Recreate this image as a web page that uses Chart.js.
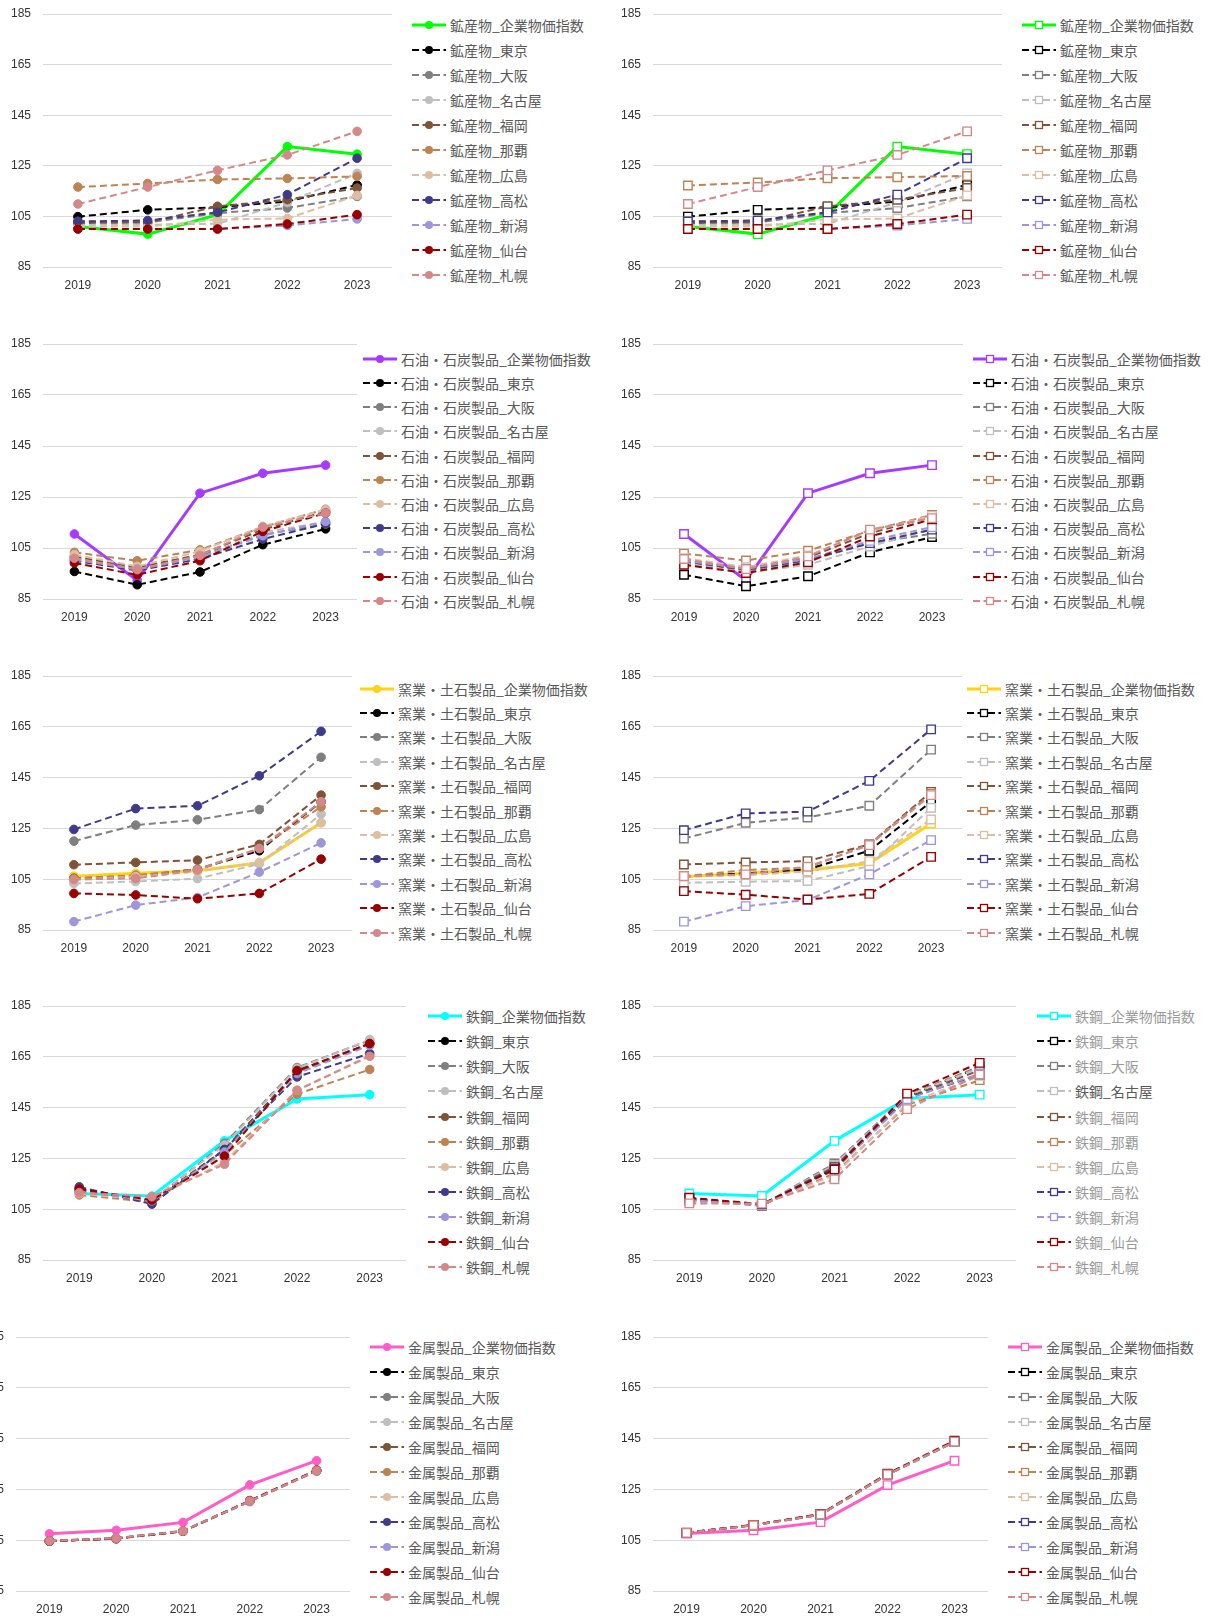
<!DOCTYPE html>
<html>
<head>
<meta charset="utf-8">
<script src="https://cdn.jsdelivr.net/npm/chart.js@4/dist/chart.umd.min.js"></script>
<style>
  body { margin: 0; background: #fff; width: 1209px; height: 1616px; overflow: hidden; position: relative; }
  canvas { position: absolute; }
  .lg { position: absolute; display: flex; align-items: center; height: 20px;
        font: 14px "Noto Sans CJK JP", sans-serif; color: #595959; white-space: nowrap; }
  .lg svg { flex: none; margin-right: 4px; }
</style>
</head>
<body>
<script>
// ---- data ----
const years = ['2019', '2020', '2021', '2022', '2023'];
const yTicks = [85, 105, 125, 145, 165, 185];
const industries = ['鉱産物', '石油・石炭製品', '窯業・土石製品', '鉄鋼', '金属製品'];
const seriesNames = ['企業物価指数', '東京', '大阪', '名古屋', '福岡', '那覇', '広島', '高松', '新潟', '仙台', '札幌'];
const indexColors = ['#00FF00', '#A63BFF', '#FFD21A', '#00FFFF', '#FF5CC8'];
const cityColors = ['#000000', '#7F7F7F', '#BFBFBF', '#7E5336', '#BD8352', '#DDBEA3',
                    '#403A8A', '#9D97D9', '#990000', '#D4888A'];

// rows follow seriesNames: 企業物価指数, 東京, 大阪, 名古屋, 福岡, 那覇, 広島, 高松, 新潟, 仙台, 札幌
const mineralCircle = [
  [101.0, 98.0, 105.7, 132.6, 129.6],
  [104.9, 107.6, 108.6, 110.9, 117.4],
  [103.0, 102.6, 106.3, 108.3, 112.9],
  [101.7, 101.7, 102.1, 110.5, 122.0],
  [102.4, 102.6, 109.0, 111.6, 116.2],
  [116.6, 118.0, 119.6, 120.0, 120.8],
  [101.0, 101.0, 103.7, 104.2, 113.3],
  [103.0, 103.4, 106.6, 113.6, 128.0],
  [100.0, 100.0, 100.0, 101.4, 104.0],
  [100.0, 100.0, 100.0, 102.0, 105.7],
  [109.9, 116.6, 123.2, 129.3, 138.6]
];
const mineralSquare = [
  [101.0, 98.0, 105.7, 132.6, 129.6],
  [104.9, 107.6, 108.6, 110.9, 117.4],
  [103.0, 102.6, 106.3, 108.3, 112.9],
  [101.7, 101.7, 102.1, 110.5, 122.0],
  [102.4, 102.6, 109.0, 111.6, 116.2],
  [117.2, 118.4, 120.1, 120.5, 121.0],
  [101.0, 101.0, 103.7, 104.2, 113.3],
  [103.0, 103.4, 106.6, 113.6, 128.0],
  [100.0, 100.0, 100.0, 101.4, 104.0],
  [100.0, 100.0, 100.0, 102.0, 105.7],
  [109.9, 116.6, 123.2, 129.3, 138.6]
];
const oilCircle = [
  [110.5, 92.3, 126.5, 134.3, 137.5],
  [95.8, 90.6, 95.6, 106.3, 112.5],
  [101.3, 97.1, 102.0, 110.2, 114.4],
  [101.0, 97.5, 101.0, 111.1, 115.2],
  [101.7, 97.4, 102.4, 112.2, 119.3],
  [103.3, 100.0, 104.3, 113.2, 120.2],
  [102.4, 97.8, 103.7, 113.5, 120.0],
  [100.0, 96.2, 100.7, 108.5, 114.5],
  [100.4, 96.7, 101.3, 109.8, 115.4],
  [99.1, 94.5, 100.0, 111.5, 118.7],
  [101.0, 96.5, 102.1, 113.2, 118.7]
];
const oilSquare = [
  [110.5, 92.3, 126.5, 134.3, 137.5],
  [94.5, 90.0, 93.9, 103.3, 109.3],
  [99.4, 96.2, 100.1, 106.9, 110.6],
  [99.1, 95.4, 98.4, 105.6, 112.4],
  [100.4, 97.1, 101.3, 110.8, 117.4],
  [102.8, 100.1, 103.9, 111.8, 118.0],
  [101.0, 97.5, 102.1, 111.6, 117.6],
  [99.8, 96.5, 100.4, 106.9, 112.2],
  [100.0, 96.9, 100.7, 107.8, 113.2],
  [98.4, 95.2, 99.4, 109.5, 116.3],
  [100.7, 96.7, 101.7, 112.2, 116.7]
];
const ceramicCircle = [
  [106.2, 107.3, 108.3, 111.5, 127.2],
  [105.3, 106.2, 108.9, 116.2, 135.5],
  [120.0, 126.3, 128.4, 132.4, 153.0],
  [103.3, 104.1, 105.2, 111.0, 130.6],
  [110.7, 111.6, 112.5, 118.7, 138.1],
  [105.3, 106.6, 108.9, 117.1, 133.5],
  [104.7, 106.0, 108.0, 111.6, 127.3],
  [124.6, 132.8, 133.9, 145.7, 163.2],
  [88.3, 94.8, 97.8, 107.8, 119.3],
  [99.4, 98.8, 97.3, 99.4, 112.9],
  [104.9, 105.3, 108.6, 117.1, 135.5]
];
const ceramicSquare = [
  [106.0, 107.3, 108.6, 111.2, 126.9],
  [106.0, 107.3, 108.9, 116.2, 135.5],
  [121.0, 127.2, 129.3, 133.9, 156.0],
  [103.6, 104.0, 104.3, 110.2, 133.1],
  [110.8, 111.6, 112.1, 118.7, 139.4],
  [106.2, 108.6, 109.6, 118.7, 138.7],
  [106.0, 106.6, 108.0, 112.1, 128.5],
  [124.3, 130.9, 131.6, 143.7, 164.0],
  [88.3, 94.4, 96.8, 106.9, 120.4],
  [100.3, 98.9, 97.0, 99.2, 113.8],
  [106.2, 106.9, 109.9, 118.4, 138.1]
];
const steelCircle = [
  [111.2, 110.2, 131.9, 148.4, 150.1],
  [113.2, 108.0, 128.3, 159.3, 170.2],
  [112.5, 108.3, 130.9, 160.8, 171.5],
  [112.1, 108.6, 130.3, 160.4, 171.8],
  [112.5, 108.0, 128.5, 159.0, 170.2],
  [110.6, 107.8, 126.3, 150.3, 160.0],
  [111.2, 108.9, 123.7, 151.8, 165.6],
  [113.8, 107.0, 128.5, 157.1, 166.3],
  [111.9, 108.3, 127.5, 158.4, 169.5],
  [112.9, 108.6, 125.9, 159.6, 170.2],
  [111.5, 109.9, 122.7, 151.8, 165.2]
];
const steelSquare = [
  [111.2, 110.2, 131.9, 148.6, 150.1],
  [109.2, 106.4, 121.3, 149.2, 161.0],
  [109.0, 106.6, 123.0, 149.9, 161.2],
  [108.6, 106.6, 122.4, 149.6, 160.7],
  [109.0, 106.6, 121.7, 148.8, 159.7],
  [108.2, 106.6, 119.1, 146.0, 155.8],
  [107.9, 106.9, 118.4, 146.6, 157.5],
  [108.9, 106.9, 121.0, 148.6, 158.0],
  [108.6, 106.6, 120.4, 148.3, 158.4],
  [109.5, 107.0, 120.6, 150.5, 162.6],
  [107.3, 107.2, 116.8, 144.4, 158.0]
];
const metalCircle = [
  [107.5, 108.9, 112.0, 126.8, 136.3],
  [104.7, 105.7, 108.6, 120.4, 132.4],
  [104.8, 105.8, 108.7, 120.5, 132.5],
  [104.7, 105.7, 108.6, 120.3, 132.3],
  [104.7, 105.6, 108.5, 120.4, 132.4],
  [104.6, 105.7, 108.6, 120.2, 132.2],
  [104.7, 105.8, 108.7, 120.5, 132.5],
  [104.7, 105.7, 108.6, 120.4, 132.4],
  [104.7, 105.7, 108.6, 120.4, 132.4],
  [104.6, 105.6, 108.5, 120.6, 132.6],
  [104.7, 105.7, 108.6, 120.4, 132.4]
];
const metalSquare = [
  [107.6, 108.9, 112.1, 126.7, 136.3],
  [107.9, 110.9, 115.1, 130.9, 143.8],
  [107.9, 111.0, 115.2, 131.0, 143.9],
  [107.9, 110.8, 115.0, 130.8, 143.7],
  [107.9, 110.9, 115.1, 130.9, 143.8],
  [107.8, 110.8, 115.0, 130.7, 143.6],
  [107.9, 110.9, 115.1, 130.9, 143.8],
  [107.9, 110.9, 115.1, 130.9, 143.8],
  [107.9, 110.9, 115.1, 130.9, 143.8],
  [108.0, 111.0, 115.3, 131.2, 144.2],
  [107.9, 110.9, 115.1, 130.9, 143.8]
];

const panelData = [
  [mineralCircle, mineralSquare],
  [oilCircle, oilSquare],
  [ceramicCircle, ceramicSquare],
  [steelCircle, steelSquare],
  [metalCircle, metalSquare]
];

// ---- layout (page pixels) ----
const rowGrid = [[14, 253], [344, 255], [676, 254], [1006, 254], [1337, 254]];          // top of plot, plot height
const rowPlotX = [[43, 392, 653, 1002], [43, 357, 653, 963], [43, 352, 653, 962],
                  [43, 406, 653, 1016], [16, 350, 653, 988]];                            // left/right plot edges per column
const rowLegend = [[412, 1022, 25, 25.0], [363, 973, 358.7, 24.2], [360, 967, 688.5, 24.4],
                   [428, 1037, 1016.3, 25.05], [370, 1008, 1347, 24.96]];               // sample x (L, R), first row y, row step
// the y scale reserves half a label plus its tick padding above the plot, so leave room for that
const AXIS_W = 43, PAD_TOP = 22, PAD_RIGHT = 4, AXIS_H = 32;
const tickFont = { family: '"Liberation Sans", Arial, sans-serif', size: 12 };

function colorOf(ind, i) { return i === 0 ? indexColors[ind] : cityColors[i - 1]; }

function legendSample(color, isIndex, square) {
  const ns = 'http://www.w3.org/2000/svg';
  const svg = document.createElementNS(ns, 'svg');
  svg.setAttribute('width', 34); svg.setAttribute('height', 12);
  const ln = document.createElementNS(ns, 'line');
  ln.setAttribute('x1', 0); ln.setAttribute('y1', 6); ln.setAttribute('x2', 34); ln.setAttribute('y2', 6);
  ln.setAttribute('stroke', color);
  ln.setAttribute('stroke-width', isIndex ? 3 : 2);
  if (!isIndex) ln.setAttribute('stroke-dasharray', '7 3.5');
  svg.appendChild(ln);
  let mk;
  if (square) {
    mk = document.createElementNS(ns, 'rect');
    mk.setAttribute('x', 13.5); mk.setAttribute('y', 2.5); mk.setAttribute('width', 7); mk.setAttribute('height', 7);
    mk.setAttribute('fill', '#fff'); mk.setAttribute('stroke', color); mk.setAttribute('stroke-width', 1.3);
  } else {
    mk = document.createElementNS(ns, 'circle');
    mk.setAttribute('cx', 17); mk.setAttribute('cy', 6); mk.setAttribute('r', 4);
    mk.setAttribute('fill', color);
  }
  svg.appendChild(mk);
  return svg;
}

function makeChart(cv, datasets) {
  return new Chart(cv, {
    type: 'line',
    data: { labels: years, datasets },
    options: {
      responsive: false,
      maintainAspectRatio: false,
      animation: false,
      devicePixelRatio: 1,
      layout: { autoPadding: false, padding: { top: PAD_TOP, right: PAD_RIGHT, left: 0, bottom: 0 } },
      plugins: { legend: { display: false }, tooltip: { enabled: false } },
      scales: {
        x: {
          offset: true,
          grid: { display: false, drawTicks: false },
          border: { display: false },
          ticks: { padding: 11, color: '#333333', font: tickFont, maxRotation: 0, autoSkip: false },
          afterFit: s => { s.height = AXIS_H; }
        },
        y: {
          min: yTicks[0], max: yTicks[yTicks.length - 1],
          afterBuildTicks: s => { s.ticks = yTicks.map(v => ({ value: v })); },
          grid: { color: '#D9D9D9', lineWidth: 1, drawTicks: false },
          border: { display: false },
          ticks: { padding: 12, color: '#333333', font: tickFont },
          afterFit: s => { s.width = AXIS_W; }
        }
      }
    }
  });
}

function buildPanel(ind, col) {
  const square = col === 1;
  const rows = panelData[ind][col];
  const [gTop, gH] = rowGrid[ind];
  const pl = rowPlotX[ind][col * 2], pr = rowPlotX[ind][col * 2 + 1];

  const datasets = rows.map((vals, i) => {
    const c = colorOf(ind, i);
    return {
      label: industries[ind] + '_' + seriesNames[i],
      data: vals,
      borderColor: c,
      backgroundColor: c,
      borderWidth: i === 0 ? 3 : 2,
      borderDash: i === 0 ? [] : [7, 4],
      tension: 0,
      pointStyle: square ? 'rect' : 'circle',
      pointRadius: square ? 6 : 4.3,
      pointBackgroundColor: square ? '#ffffff' : c,
      pointBorderColor: c,
      pointBorderWidth: square ? 1.4 : 1,
      order: rows.length - i,
      clip: false
    };
  });

  const W = pr - pl + AXIS_W + PAD_RIGHT;
  let topGap = PAD_TOP, bottomGap = AXIS_H;
  let cv, chart;
  // build once, then rebuild if the scale reserved a different margin than planned
  for (let pass = 0; pass < 2; pass++) {
    const H = Math.round(gH + topGap + bottomGap);
    cv = document.createElement('canvas');
    cv.width = W; cv.height = H;
    cv.style.left = (pl - AXIS_W) + 'px';
    cv.style.top = Math.round(gTop - topGap) + 'px';
    cv.style.width = W + 'px'; cv.style.height = H + 'px';
    document.body.appendChild(cv);
    chart = makeChart(cv, datasets);
    const a = chart.chartArea;
    const t = a.top, b = H - a.bottom;
    if (Math.abs(t - topGap) < 0.6 && Math.abs(a.bottom - a.top - gH) < 0.6) break;
    if (pass === 0) {
      chart.destroy(); cv.remove();
      topGap = t; bottomGap = b;
    }
  }

  // legend (the 鉄鋼 squares panel uses a lighter text tone, except 名古屋)
  const [lx0, lx1, ly0, ldy] = rowLegend[ind];
  const lx = col === 0 ? lx0 : lx1;
  const lightText = ind === 3 && col === 1;
  datasets.forEach((ds, i) => {
    const item = document.createElement('div');
    item.className = 'lg';
    item.style.left = lx + 'px';
    item.style.top = (ly0 + i * ldy - 10) + 'px';
    if (lightText && i !== 3) item.style.color = '#9A9A9A';
    item.appendChild(legendSample(ds.borderColor, i === 0, square));
    const t = document.createElement('span');
    t.textContent = ds.label;
    item.appendChild(t);
    document.body.appendChild(item);
  });
}

for (let ind = 0; ind < industries.length; ind++) {
  buildPanel(ind, 0);
  buildPanel(ind, 1);
}
</script>
</body>
</html>
